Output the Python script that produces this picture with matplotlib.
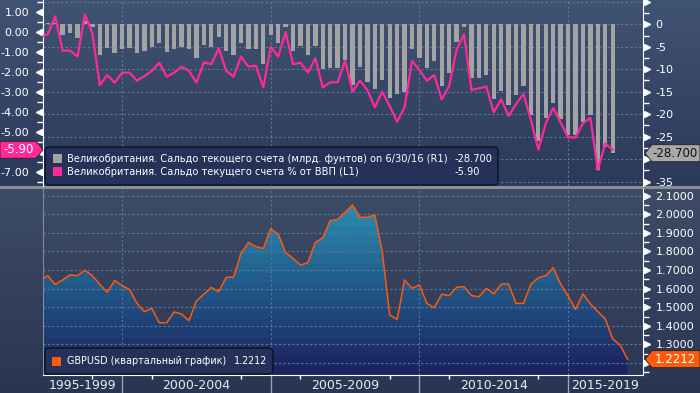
import numpy as np
import matplotlib
matplotlib.use('Agg')
import matplotlib.pyplot as plt
from matplotlib.colors import to_rgb
from matplotlib.patches import Polygon, FancyBboxPatch
from matplotlib.transforms import IdentityTransform, blended_transform_factory

# quarterly data from 1997Q1
ca_bn = [0.5, 0.4, 0.4, -2.4, -2.0, -3.0, 0.8, -0.5, -6.8, -5.2,
         -6.5, -5.5, -5.2, -6.5, -5.9, -5.0, -4.2, -6.2, -5.6, -5.0,
         -5.6, -7.4, -4.5, -5.0, -2.8, -5.9, -6.9, -4.1, -5.6, -5.5,
         -8.9, -2.4, -4.2, -0.5, -5.9, -4.9, -6.8, -4.8, -9.9, -9.7,
         -9.7, -8.0, -13.5, -9.6, -12.8, -14.5, -12.4, -16.5, -15.5, -15.0,
         -5.5, -7.4, -9.8, -8.2, -13.7, -10.8, -3.9, -0.5, -11.9, -11.9,
         -11.3, -16.6, -14.9, -18.0, -15.7, -13.7, -20.2, -26.0, -20.9, -17.6,
         -21.0, -24.6, -24.6, -21.7, -20.2, -32.4, -27.3, -28.7]
ca_gdp = [-0.25, -0.1, 0.8, -0.92, -0.92, -1.22, 0.9, -0.05, -2.65, -2.15,
          -2.53, -2.03, -2.03, -2.43, -2.20, -1.94, -1.53, -2.23, -2.03, -1.73,
          -1.94, -2.53, -1.51, -1.61, -0.80, -1.93, -2.23, -1.22, -1.73, -1.68,
          -2.77, -0.72, -1.22, 0.0, -1.61, -1.53, -2.03, -1.31, -2.77, -2.51,
          -2.51, -1.43, -2.98, -2.43, -2.90, -3.77, -2.98, -3.70, -4.49, -3.77,
          -1.43, -1.90, -2.43, -2.15, -3.37, -2.70, -0.89, -0.10, -2.90, -2.81,
          -2.73, -4.02, -3.37, -4.20, -3.60, -3.10, -4.40, -5.90, -4.57, -3.79,
          -4.54, -5.28, -5.28, -4.57, -4.29, -6.92, -5.58, -5.90]
gbpusd = [1.645, 1.670, 1.623, 1.647, 1.674, 1.670, 1.699, 1.670, 1.623, 1.580,
          1.645, 1.616, 1.595, 1.521, 1.477, 1.494, 1.417, 1.417, 1.475, 1.463,
          1.428, 1.534, 1.570, 1.607, 1.584, 1.661, 1.663, 1.790, 1.849, 1.826,
          1.817, 1.921, 1.894, 1.794, 1.763, 1.727, 1.740, 1.849, 1.874, 1.966,
          1.973, 2.011, 2.050, 1.984, 1.984, 1.996, 1.800, 1.459, 1.435, 1.647,
          1.602, 1.620, 1.521, 1.498, 1.570, 1.563, 1.607, 1.611, 1.563, 1.556,
          1.602, 1.573, 1.624, 1.625, 1.521, 1.521, 1.624, 1.659, 1.670, 1.713,
          1.624, 1.561, 1.489, 1.572, 1.518, 1.477, 1.437, 1.330, 1.297, 1.2212]

periods = ['1995-1999', '2000-2004', '2005-2009', '2010-2014', '2015-2019']
period_starts = [1995, 2000, 2005, 2010, 2015]
minor_years = [1999, 2001, 2004, 2006, 2009, 2011, 2014]
left_ticks = [1, 0, -1, -2, -3, -4, -5, -6, -7]
right_ticks = [5, 0, -5, -10, -15, -20, -25, -30, -35]
fx_ticks = [1.2, 1.3, 1.4, 1.5, 1.6, 1.7, 1.8, 1.9, 2.0, 2.1]
# labels covered by the last-value tags in the original
hidden_left, hidden_right, hidden_fx = [-6], [5, -30], [1.2]

legend1 = 'Великобритания. Сальдо текощего счета (млрд. фунтов) on 6/30/16 (R1)'
legend2 = 'Великобритания. Сальдо текущего счета % от ВВП (L1)'
legend3 = 'GBPUSD (квартальный график)'

t_ca = 1997.25 + 0.25 * np.arange(len(ca_bn))
t_fx = 1997.25 + 0.25 * np.arange(len(gbpusd))

W, H = 700, 393
XLIM = (1997.34, 2017.52)
grid_col = '#5f7795'
dash = (0, (2, 2))
pink = '#ff2a97'
orange = '#ff5a0a'
grey = '#a3a3a3'


def vgrad(c1, c2, n):
    f = np.linspace(0, 1, n)[:, None]
    return np.array(to_rgb(c1)) * (1 - f) + np.array(to_rgb(c2)) * f


fig = plt.figure(figsize=(7, 3.93), dpi=100)

# background
bg = np.vstack([vgrad('#415372', '#2b395b', 186),
                np.tile(to_rgb('#8e8e8e'), (3, 1)),
                vgrad('#3d4c67', '#2a3553', 204)])
bg_ax = fig.add_axes([0, 0, 1, 1], zorder=-10)
bg_ax.imshow(bg[:, None, :], aspect='auto', extent=[0, 1, 0, 1], interpolation='nearest')
bg_ax.axis('off')

# ---------- top panel ----------
ax_l = fig.add_axes([43 / W, (H - 186) / H, 600 / W, 186 / H])
ax_r = ax_l.twinx()
ax_l.set_zorder(ax_r.get_zorder() + 1)
ax_l.patch.set_visible(False)
ax_r.patch.set_visible(False)

ax_r.bar(t_ca, ca_bn, width=0.145, color=grey, zorder=2)
ax_l.plot(t_ca, ca_gdp, color=pink, lw=1.6, zorder=3)

for yr in period_starts[1:]:
    ax_r.axvline(yr, color=grid_col, lw=0.8, ls=dash, zorder=0.5)
ax_r.set_yticks(right_ticks)
ax_r.set_yticklabels(['' if v in hidden_right else str(v) for v in right_ticks])
ax_r.grid(axis='y', color=grid_col, lw=0.8, ls=dash)
ax_r.set_axisbelow(True)
ax_r.set_yticks(np.arange(-35, 5.1, 2.5), minor=True)

ax_l.set_yticks(left_ticks)
ax_l.set_yticklabels(['' if v in hidden_left else f'{v:.2f}' for v in left_ticks])
ax_l.set_yticks(np.arange(-7.5, 1.6, 0.5), minor=True)
ax_l.set_xticks([])

ax_l.set_xlim(XLIM)
ax_l.set_ylim(-7.72, 1.62)
ax_r.set_ylim(-36.0, 5.41)

for a in (ax_l, ax_r):
    for s in a.spines.values():
        s.set_visible(False)
ax_l.spines['left'].set_visible(True)
ax_l.spines['left'].set_color('white')
ax_r.spines['right'].set_visible(True)
ax_r.spines['right'].set_color('white')

ax_l.tick_params(axis='y', which='major', length=0, pad=10, labelsize=8, labelcolor='white')
ax_l.tick_params(axis='y', which='minor', length=4, width=1, color='white')
ax_r.tick_params(axis='y', which='major', length=0, pad=9, labelsize=8, labelcolor='white')
ax_r.tick_params(axis='y', which='minor', length=4, width=1, color='white')

tr = blended_transform_factory(ax_l.transAxes, ax_l.transData)
ax_l.plot([-4 / 600] * len(left_ticks), left_ticks, ls='none', marker='<', ms=5,
          color='white', transform=tr, clip_on=False)
tr = blended_transform_factory(ax_r.transAxes, ax_r.transData)
ax_r.plot([1 + 4 / 600] * len(right_ticks), right_ticks, ls='none', marker='>', ms=5,
          color='white', transform=tr, clip_on=False)

# ---------- bottom panel ----------
bot = fig.add_axes([43 / W, (H - 375) / H, 600 / W, 186 / H])
bot.patch.set_visible(False)
ylo, yhi = 1.136, 2.136

band = np.floor(np.linspace(0, 0.999, 400) * 20) / 19
band = np.clip(band, 0, 1)[:, None]
cols = np.array(to_rgb('#1b2460')) * (1 - band) + np.array(to_rgb('#2a93b6')) * band
im = bot.imshow(cols[:, None, :], extent=[XLIM[0], XLIM[1], ylo, yhi], origin='lower',
                aspect='auto', zorder=1, interpolation='nearest')
area = Polygon(np.column_stack([np.r_[t_fx[0], t_fx, t_fx[-1]], np.r_[ylo, gbpusd, ylo]]),
               closed=True, fc='none', ec='none', transform=bot.transData)
bot.add_patch(area)
im.set_clip_path(area)
bot.plot(t_fx, gbpusd, color=orange, lw=1.1, zorder=3)

for yr in period_starts[1:]:
    bot.axvline(yr, color=grid_col, lw=0.8, ls=dash, zorder=1.5)
bot.set_axisbelow('line')
bot.yaxis.tick_right()
bot.set_yticks(fx_ticks)
bot.set_yticklabels(['' if v in hidden_fx else f'{v:.4f}' for v in fx_ticks])
bot.set_yticks(np.arange(1.15, 2.131, 0.05), minor=True)
bot.grid(axis='y', color=grid_col, lw=0.8, ls=dash)
bot.tick_params(axis='y', which='major', length=0, pad=9, labelsize=8, labelcolor='white')
bot.tick_params(axis='y', which='minor', length=4, width=1, color='white')
tr = blended_transform_factory(bot.transAxes, bot.transData)
bot.plot([1 + 4 / 600] * len(fx_ticks), fx_ticks, ls='none', marker='>', ms=5,
         color='white', transform=tr, clip_on=False)

bot.set_xticks(period_starts[1:])
bot.set_xticklabels([])
bot.set_xticks(minor_years, minor=True)
bot.tick_params(axis='x', which='major', length=13, width=1, color='#9aa3b0')
bot.tick_params(axis='x', which='minor', length=3, width=1, color='white')
bot.set_xlim(XLIM)
bot.set_ylim(ylo, yhi)

for s in bot.spines.values():
    s.set_visible(False)
bot.spines['left'].set_visible(True)
bot.spines['left'].set_color('#7d8aa0')
bot.spines['left'].set_linewidth(0.8)
bot.spines['bottom'].set_visible(True)
bot.spines['bottom'].set_color('white')
bot.spines['right'].set_visible(True)
bot.spines['right'].set_color('white')

trx = blended_transform_factory(bot.transData, bot.transAxes)
for lab, st in zip(periods, period_starts):
    c = (max(st, XLIM[0]) + min(st + 5, XLIM[1])) / 2
    bot.text(c, -0.055, lab, transform=trx, ha='center', va='center', fontsize=9, color='#ececec')

# ---------- legends and value tags ----------
ident = IdentityTransform()


def box(x, y, w, h):
    fig.add_artist(FancyBboxPatch((x, y), w, h, boxstyle='round,pad=0,rounding_size=4',
                                  fc='#253159', ec='#0c1220', lw=1, transform=ident, zorder=5))


def swatch(x, y, color):
    fig.add_artist(FancyBboxPatch((x, y), 9, 9, boxstyle='square,pad=0', fc=color, ec='none',
                                  transform=ident, zorder=6))


def label(x, y, s, color='white', size=7.1, ha='left'):
    fig.text(x, y, s, transform=ident, color=color, fontsize=size, ha=ha, va='center', zorder=7)


box(45, 208, 453, 38)
swatch(53, 230, grey)
swatch(53, 217, pink)
label(67, 234, legend1)
label(67, 221, legend2)
label(455, 234, f'{ca_bn[-1]:.3f}')
label(455, 221, f'{ca_gdp[-1]:.2f}')

box(45, 19, 228, 26)
swatch(52, 27, orange)
label(67, 31.5, legend3, size=6.9)
label(234, 31.5, f'{gbpusd[-1]:.4f}', size=6.9)


def tag(y, color, text, tcolor, left):
    h = 8.5
    if left:
        pts = [(0, y - h), (36, y - h), (43, y), (36, y + h), (0, y + h)]
        tx = 19
    else:
        pts = [(645, y), (652, y - h), (700, y - h), (700, y + h), (652, y + h)]
        tx = 675
    fig.add_artist(Polygon(pts, closed=True, fc=color, ec='#222222', lw=0.6,
                           transform=ident, zorder=5))
    fig.text(tx, y, text, transform=ident, color=tcolor, fontsize=8.5, ha='center',
             va='center', zorder=7)


tag(ax_l.transData.transform((2000, ca_gdp[-1]))[1], pink, f'{ca_gdp[-1]:.2f}', 'white', True)
tag(ax_r.transData.transform((2000, ca_bn[-1]))[1], '#a8a8a8', f'{ca_bn[-1]:.3f}', '#111111', False)
tag(bot.transData.transform((2000, gbpusd[-1]))[1], orange, f'{gbpusd[-1]:.4f}', 'white', False)

fig.savefig('out.png', dpi=100)
